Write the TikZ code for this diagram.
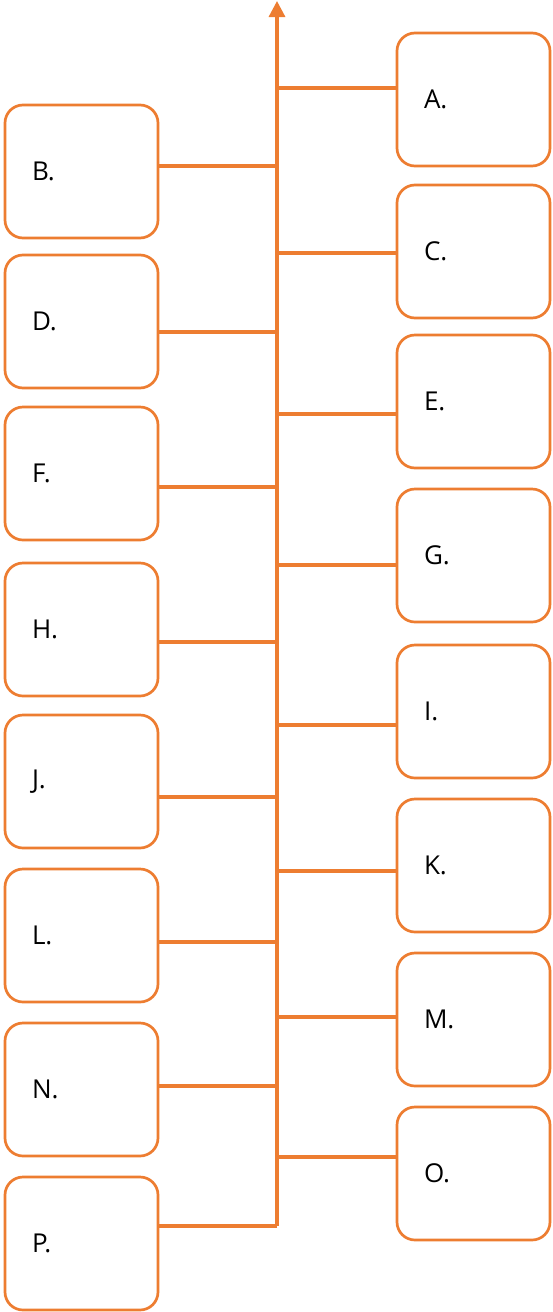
\documentclass[tikz,border=0pt]{standalone}
\usepackage{fontspec}
\setmainfont{Open Sans}
\usetikzlibrary{arrows.meta}
\definecolor{orng}{HTML}{ED7D31}
\begin{document}
\begin{tikzpicture}[x=1pt,y=-1pt,
  itembox/.style={draw=orng,line width=2.7pt,rounded corners=18pt,fill=white,
    minimum width=153pt,minimum height=133pt,inner xsep=27pt,inner ysep=0pt,
    text width=99pt,align=left,font=\fontsize{26}{30}\selectfont},
  conn/.style={draw=orng,line width=3.2pt}]
\useasboundingbox (0,0) rectangle (552,1312);
% right boxes
\foreach \n/\y in {A/99.5,C/251.5,E/401.5,G/555.5,I/711.5,K/865.5,M/1019.5,O/1173.5}
  \node[itembox] (\n) at (473.5,\y) {\n.};
% left boxes
\foreach \n/\y in {B/171.5,D/321.5,F/473.5,H/629.5,J/781.5,L/935.5,N/1089.5,P/1243.5}
  \node[itembox] (\n) at (81.5,\y) {\n.};
% spine
\coordinate (top) at (277,1);
\coordinate (bot) at (277,1226);
\draw[conn,-{Triangle[width=16pt,length=16pt]}] (bot) -- (top);
% connectors
\foreach \n/\y in {A/88,C/253,E/414,G/565,I/725,K/871,M/1017,O/1157,B/166,D/332,F/487,H/642,J/797,L/942,N/1086,P/1226}{
  \coordinate (s\n) at (277,\y);
}
\foreach \n in {A,C,E,G,I,K,M,O}
  \draw[conn] (s\n) -- (s\n -| \n.west);
\foreach \n in {B,D,F,H,J,L,N,P}
  \draw[conn] (s\n) -- (s\n -| \n.east);
\end{tikzpicture}
\end{document}
